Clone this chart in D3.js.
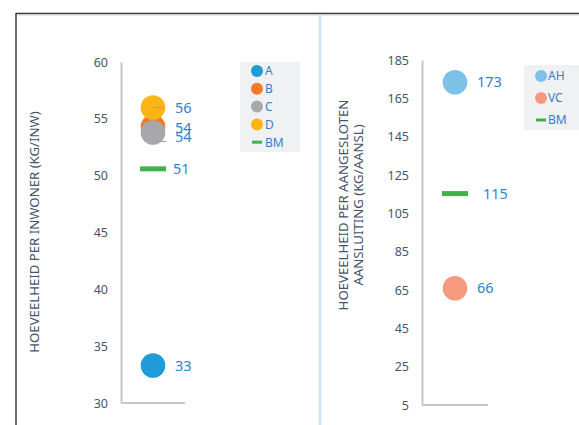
<!DOCTYPE html>
<html><head><meta charset="utf-8">
<script src="https://cdn.jsdelivr.net/npm/d3@7"></script>
<style>body{margin:0;background:#fff}svg{display:block;font-family:"Noto Sans","Open Sans",sans-serif}</style>
</head><body>
<svg id="c" width="579" height="425"></svg>
<script>
// Left chart data
const leftSeries = ["A","B","C","D"];
const leftValues = [33.3, 54.3, 53.8, 56.0];
const leftLabels = ["33","54","54","56"];
const leftColors = ["#1F9BD7","#F37A2B","#A8A8AA","#FDB515"];
const leftBM = 50.6, leftBMLabel = "51";
const leftTicks = [30,35,40,45,50,55,60];
const leftTitle = "HOEVEELHEID PER INWONER (KG/INW)";
// Right chart data
const rightSeries = ["AH","VC"];
const rightValues = [173.4, 65.9];
const rightLabels = ["173","66"];
const rightColors = ["#7DC1E6","#F59A7F"];
const rightBM = 115.3, rightBMLabel = "115";
const rightTicks = [5,25,45,65,85,105,125,145,165,185];
const rightTitle = ["HOEVEELHEID PER AANGESLOTEN","AANSLUITING (KG/AANSL)"];
const bmColor = "#3CB44B";

const svg = d3.select("#c");
// frame
svg.append("line").attr("x1",16).attr("x2",16).attr("y1",13).attr("y2",425).attr("stroke","#3a3a3a").attr("stroke-width",1.5);
svg.append("line").attr("x1",16).attr("x2",579).attr("y1",13.5).attr("y2",13.5).attr("stroke","#3a3a3a").attr("stroke-width",1.5);
svg.append("line").attr("x1",18).attr("x2",579).attr("y1",15.5).attr("y2",15.5).attr("stroke","#e6e6e6").attr("stroke-width",1);
svg.append("line").attr("x1",320).attr("x2",320).attr("y1",15).attr("y2",425).attr("stroke","#D5E8F7").attr("stroke-width",3);

const labelColor = "#2F83C9", tickColor = "#4A5568", axisColor = "#C8C8C8";

function panel(o){
  const y = d3.scaleLinear().domain(o.domain).range(o.yRange);
  const x = d3.scaleBand().domain(["v"]).range(o.xRange);
  const cx = x("v") + x.bandwidth()/2;
  const ax = svg.append("g").attr("transform",`translate(${o.xRange[0]},0)`)
    .call(d3.axisLeft(y).tickValues(o.ticks).tickSize(0).tickPadding(o.pad));
  ax.select(".domain").attr("stroke",axisColor).attr("stroke-width",2);
  ax.selectAll("text").attr("fill",tickColor).attr("font-size",12.5).attr("font-family","Noto Sans, sans-serif");
  svg.append("line").attr("x1",o.xRange[0]).attr("x2",o.xRange[1]).attr("y1",y(o.domain[0])).attr("y2",y(o.domain[0]))
    .attr("stroke",axisColor).attr("stroke-width",2);
  // title
  const t = svg.append("text").attr("transform",`translate(${o.titleX},${o.titleY}) rotate(-90)`)
    .attr("text-anchor","middle").attr("fill","#44546A").attr("font-size",13.2);
  o.title.forEach((s,i)=>t.append("tspan").attr("x",0).attr("dy",i?14.5:0).text(s));
  // BM bar
  svg.append("rect").attr("x",cx-13).attr("y",y(o.bm)-2.5).attr("width",26).attr("height",5).attr("fill",bmColor);
  svg.append("text").attr("x",cx+o.bmLabelDx).attr("y",y(o.bm)).attr("dy","0.35em").attr("fill",labelColor).attr("font-size",14.5).text(o.bmLabel);
  // points
  o.values.forEach((v,i)=>{
    svg.append("circle").attr("cx",cx).attr("cy",y(v)).attr("r",12.3).attr("fill",o.colors[i]);
  });
  (o.leaders||[]).forEach(l=>{
    svg.append("path").attr("d",`M${cx+l[0]},${y(o.values[l[2]])+l[1]} l${l[3]},0`).attr("stroke","#A6A6A6").attr("fill","none").attr("stroke-width",1.2);
  });
  o.values.forEach((v,i)=>{
    svg.append("text").attr("x",cx+o.labelDx).attr("y",y(v)+(o.labelDy?o.labelDy[i]:0)).attr("dy","0.35em")
      .attr("fill",labelColor).attr("font-size",14.5).text(o.labels[i]);
  });
  // legend
  const lg = svg.append("g");
  lg.append("rect").attr("x",o.leg.x).attr("y",o.leg.y).attr("width",o.leg.w).attr("height",o.leg.h).attr("fill","#F0F1F3");
  const names = o.series.concat(["BM"]);
  names.forEach((n,i)=>{
    const yy = o.leg.y0 + i*o.leg.step;
    if(n==="BM") lg.append("rect").attr("x",o.leg.mx-5).attr("y",yy-1.5).attr("width",10).attr("height",3).attr("fill",bmColor);
    else lg.append("circle").attr("cx",o.leg.mx).attr("cy",yy).attr("r",6).attr("fill",o.colors[i]);
    lg.append("text").attr("x",o.leg.tx).attr("y",yy).attr("dy","0.36em").attr("fill","#3A7DC8").attr("font-size",12).text(n);
  });
}

panel({domain:[30,60], yRange:[403,62], xRange:[121,185], ticks:leftTicks, pad:13,
  title:[leftTitle], titleX:39, titleY:232,
  bm:leftBM, bmLabel:leftBMLabel, bmLabelDx:20,
  values:leftValues, labels:leftLabels, colors:leftColors, series:leftSeries,
  labelDx:22, labelDy:[0,1,4.5,0],
  leaders:[[0,0,3,11],[8,9,2,5]],
  leg:{x:240,y:62,w:60,h:90,y0:71,step:17.8,mx:257,tx:265}});

panel({domain:[5,185], yRange:[405,60], xRange:[422,488], ticks:rightTicks, pad:13,
  title:rightTitle, titleX:348, titleY:205,
  bm:rightBM, bmLabel:rightBMLabel, bmLabelDx:28,
  values:rightValues, labels:rightLabels, colors:rightColors, series:rightSeries,
  labelDx:22,
  leg:{x:524,y:65,w:55,h:65,y0:76,step:22,mx:541,tx:548}});
</script>
</body></html>
